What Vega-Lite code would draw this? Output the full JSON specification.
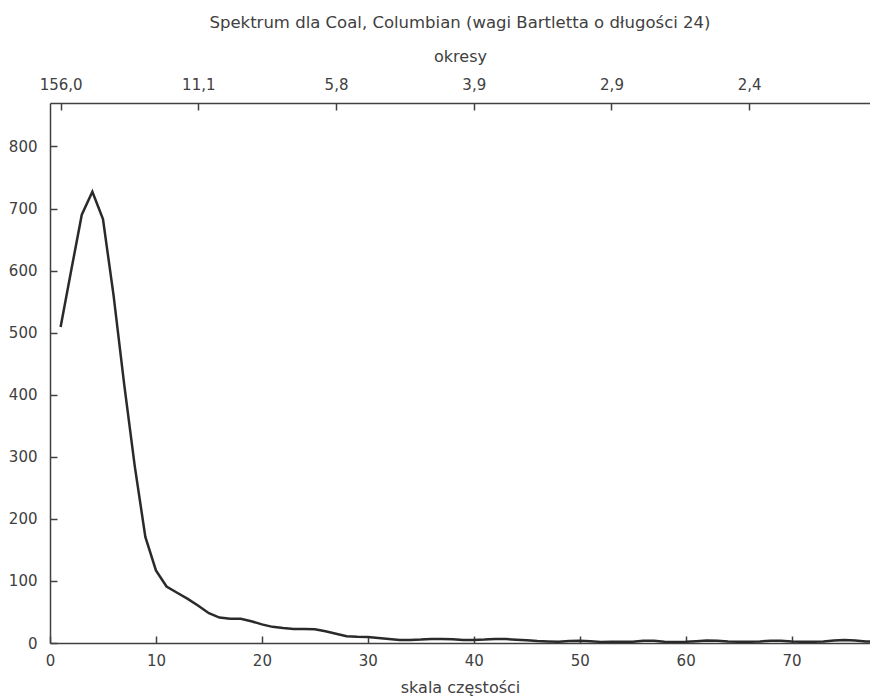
{
  "$schema": "https://vega.github.io/schema/vega-lite/v6.json",
  "width": 820,
  "height": 540,
  "autosize": {"type": "none"},
  "padding": {"left": 50, "top": 103, "right": 0, "bottom": 56},
  "background": "white",
  "config": {
    "view": {"stroke": null},
    "font": "DejaVu Sans",
    "axis": {
      "labelFont": "DejaVu Sans",
      "titleFont": "DejaVu Sans",
      "labelFontSize": 15,
      "titleFontSize": 16,
      "titleFontWeight": "normal",
      "labelColor": "#404040",
      "titleColor": "#404040",
      "domainColor": "#404040",
      "tickColor": "#404040",
      "domainWidth": 1.5,
      "tickWidth": 1.5,
      "grid": false,
      "labelFlush": false,
      "labelOverlap": false
    }
  },
  "title": {
    "text": "Spektrum dla Coal, Columbian  (wagi Bartletta o długości 24)",
    "font": "DejaVu Sans",
    "fontSize": 16.5,
    "fontWeight": "normal",
    "color": "#404040",
    "anchor": "middle",
    "offset": 17
  },
  "data": {
    "values": [
      {"k": 1, "v": 509}, {"k": 2, "v": 600}, {"k": 3, "v": 690}, {"k": 4, "v": 727},
      {"k": 5, "v": 683}, {"k": 6, "v": 560}, {"k": 7, "v": 417}, {"k": 8, "v": 285},
      {"k": 9, "v": 171}, {"k": 10, "v": 117}, {"k": 11, "v": 91}, {"k": 12, "v": 81},
      {"k": 13, "v": 71}, {"k": 14, "v": 60}, {"k": 15, "v": 48}, {"k": 16, "v": 41},
      {"k": 17, "v": 39}, {"k": 18, "v": 39}, {"k": 19, "v": 35}, {"k": 20, "v": 30},
      {"k": 21, "v": 26}, {"k": 22, "v": 24}, {"k": 23, "v": 22.5}, {"k": 24, "v": 22.5},
      {"k": 25, "v": 22}, {"k": 26, "v": 19}, {"k": 27, "v": 15}, {"k": 28, "v": 11},
      {"k": 29, "v": 10}, {"k": 30, "v": 9.5}, {"k": 31, "v": 8}, {"k": 32, "v": 6.5},
      {"k": 33, "v": 5}, {"k": 34, "v": 5}, {"k": 35, "v": 5.5}, {"k": 36, "v": 6.4},
      {"k": 37, "v": 6.5}, {"k": 38, "v": 6}, {"k": 39, "v": 5}, {"k": 40, "v": 5},
      {"k": 41, "v": 5.5}, {"k": 42, "v": 6.5}, {"k": 43, "v": 6.5}, {"k": 44, "v": 5.3},
      {"k": 45, "v": 4.3}, {"k": 46, "v": 3.2}, {"k": 47, "v": 2.5}, {"k": 48, "v": 2},
      {"k": 49, "v": 3.2}, {"k": 50, "v": 3.7}, {"k": 51, "v": 2.8}, {"k": 52, "v": 1.8},
      {"k": 53, "v": 2}, {"k": 54, "v": 2.2}, {"k": 55, "v": 2}, {"k": 56, "v": 3.5},
      {"k": 57, "v": 3.5}, {"k": 58, "v": 2}, {"k": 59, "v": 1.5}, {"k": 60, "v": 2},
      {"k": 61, "v": 3}, {"k": 62, "v": 4}, {"k": 63, "v": 3.5}, {"k": 64, "v": 2.5},
      {"k": 65, "v": 2}, {"k": 66, "v": 2}, {"k": 67, "v": 2.5}, {"k": 68, "v": 3.5},
      {"k": 69, "v": 3.5}, {"k": 70, "v": 2.5}, {"k": 71, "v": 2}, {"k": 72, "v": 2},
      {"k": 73, "v": 2.5}, {"k": 74, "v": 4}, {"k": 75, "v": 5}, {"k": 76, "v": 4},
      {"k": 77, "v": 2.5}, {"k": 78, "v": 2}
    ]
  },
  "resolve": {"axis": {"x": "independent", "y": "independent"}},
  "layer": [
    {
      "mark": {"type": "line", "opacity": 0},
      "encoding": {
        "x": {
          "field": "k", "type": "quantitative",
          "axis": {
            "orient": "bottom", "title": null, "labels": false, "domain": false,
            "values": [0, 10, 20, 30, 40, 50, 60, 70],
            "ticks": true, "tickSize": 7, "offset": -7
          }
        },
        "y": {
          "field": "v", "type": "quantitative",
          "axis": {
            "orient": "left", "title": null, "labels": false, "domain": false,
            "values": [0, 100, 200, 300, 400, 500, 600, 700, 800],
            "ticks": true, "tickSize": 7, "offset": -7
          }
        }
      }
    },
    {
      "mark": {"type": "line", "opacity": 0},
      "encoding": {
        "x": {
          "field": "k", "type": "quantitative",
          "axis": {
            "orient": "top", "title": "okresy",
            "values": [1, 14, 27, 40, 53, 66],
            "labelExpr": "datum.value == 1 ? '156,0' : datum.value == 14 ? '11,1' : datum.value == 27 ? '5,8' : datum.value == 40 ? '3,9' : datum.value == 53 ? '2,9' : '2,4'",
            "ticks": false, "labelPadding": 11, "titlePadding": 13
          }
        },
        "y": {"field": "v", "type": "quantitative", "axis": null}
      }
    },
    {
      "mark": {"type": "line", "opacity": 0},
      "encoding": {
        "x": {
          "field": "k", "type": "quantitative",
          "axis": {
            "orient": "top", "title": null, "labels": false, "domain": false,
            "values": [1, 14, 27, 40, 53, 66],
            "ticks": true, "tickSize": 7, "offset": -7
          }
        },
        "y": {"field": "v", "type": "quantitative", "axis": null}
      }
    },
    {
      "mark": {"type": "line", "color": "#2a2a2a", "strokeWidth": 2.5, "clip": true},
      "encoding": {
        "x": {
          "field": "k", "type": "quantitative",
          "scale": {"domain": [0, 77.4], "nice": false, "zero": false},
          "axis": {
            "orient": "bottom",
            "title": "skala częstości",
            "values": [0, 10, 20, 30, 40, 50, 60, 70],
            "ticks": false,
            "labelPadding": 10,
            "titlePadding": 11
          }
        },
        "y": {
          "field": "v", "type": "quantitative",
          "scale": {"domain": [0, 870], "nice": false},
          "axis": {
            "orient": "left",
            "title": null,
            "values": [0, 100, 200, 300, 400, 500, 600, 700, 800],
            "ticks": false,
            "labelPadding": 13
          }
        }
      }
    }
  ]
}
